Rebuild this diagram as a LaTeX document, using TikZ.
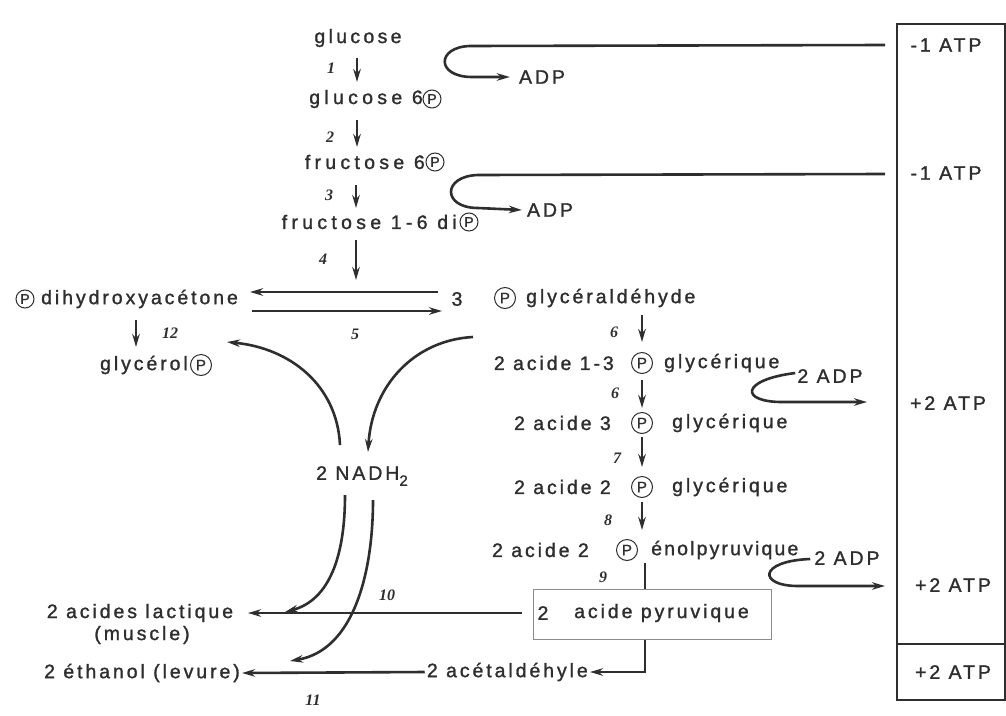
\documentclass[tikz,border=0pt]{standalone}
\usepackage{fontspec}
\setmainfont{Liberation Sans}[LetterSpace=15,FakeBold=1.3]
\newfontfamily\plainsans{Liberation Sans}[FakeBold=1.3]
\newfontfamily\numfont{Liberation Serif}
\usetikzlibrary{arrows.meta,calc}
\definecolor{ink}{HTML}{2E2E2E}
\definecolor{boxgray}{HTML}{8C8C8C}
\begin{document}
\begin{tikzpicture}[x=1pt,y=-1pt,
  txt/.style={inner sep=0pt,text=ink,font=\fontsize{19.5}{21}\selectfont},
  toptxt/.style={txt,font=\fontsize{19.5}{21}\selectfont\addfontfeature{LetterSpace=22}},
  num/.style={inner sep=0pt,text=ink,font=\numfont\bfseries\itshape\fontsize{16}{17}\selectfont},
  pc/.style={circle,draw=ink,line width=1pt,inner sep=0pt,minimum size=21pt,text=ink,font=\plainsans\fontsize{15}{15}\selectfont},
  pcs/.style={pc,minimum size=18pt,font=\plainsans\fontsize{14}{14}\selectfont},
  ln/.style={draw=ink,line width=2.6pt},
  arr/.style={ln,-{Stealth[length=13pt,width=7.5pt]}},
]
\useasboundingbox (0,0) rectangle (1006,715);
\fill[white] (0,0) rectangle (1006,715);

% ---- main chain (top) ----
\node[txt,font=\fontsize{19.5}{21}\selectfont\addfontfeature{LetterSpace=17}] (glc) at (358,38) {glucose};
\node[pcs] (p1) at (432,99) {P};
\node[toptxt,anchor=east] (g6) at (423,99) {glucose 6};
\node[pcs] (p2) at (435,162) {P};
\node[toptxt,anchor=east] (f6) at (425,162) {fructose 6};
\node[pcs] (p3) at (469,222) {P};
\node[toptxt,anchor=east] (f16) at (457,222) {fructose 1-6 di};

\node[pcs] (p4) at (25,299) {P};
\node[txt,anchor=west] (dha) at (41,299) {dihydroxyacétone};
\node[txt] (three) at (457,299) {3};
\node[pc] (p5) at (505,298) {P};
\node[txt,anchor=west] (gald) at (526,298) {glycéraldéhyde};
\node[pc] (p10) at (201,365) {P};
\node[txt,anchor=east] (glyc) at (188,365) {glycérol};

% ---- right chain ----
\node[pc] (p6) at (642,363) {P};
\node[txt,anchor=east] (a13l) at (614,363) {2 acide 1-3};
\node[txt,anchor=west] (a13r) at (664,363) {glycérique};
\node[pc] (p7) at (642,423) {P};
\node[txt,anchor=east] (a3l) at (611,423) {2 acide 3};
\node[txt,anchor=west] (a3r) at (672,423) {glycérique};
\node[pc] (p8) at (642,487) {P};
\node[txt,anchor=east] (a2l) at (611,487) {2 acide 2};
\node[txt,anchor=west] (a2r) at (672,487) {glycérique};
\node[pc] (p9) at (627,550) {P};
\node[txt,anchor=east] (el) at (589,550) {2 acide 2};
\node[txt,anchor=west,font=\fontsize{19.5}{21}\selectfont\addfontfeature{LetterSpace=11}] (er) at (651,550) {énolpyruvique};

\node[draw=boxgray,line width=1.1pt,inner sep=0pt,minimum width=238pt,minimum height=50pt,anchor=north west] (pyr) at (533,589) {};
\node[txt] (pyr2) at (543,613) {2};
\node[txt,anchor=west] (pyrt) at (574,613) {acide pyruvique};

\node[txt,anchor=east] (acet) at (588,672) {2 acétaldéhyle};
\node[txt] (lac) at (140,613) {2 acides lactique};
\node[txt] (mus) at (142,635) {(muscle)};
\node[txt] (eth) at (142,673) {2 éthanol (levure)};
\node[txt,anchor=west] (nadh) at (316,476) {2 NADH\raisebox{-6pt}{\plainsans\fontsize{15}{15}\selectfont 2}};

% ---- ATP box ----
\node[draw=ink,line width=2.4pt,inner sep=0pt,minimum width=108pt,minimum height=676pt,anchor=north west] (atpbox) at (896,23) {};
\draw[ln,line width=2.4pt] ($(atpbox.north west)+(0,621)$) -- ($(atpbox.north east)+(0,621)$);
\node[txt] (m1) at (946,45) {-1 ATP};
\node[txt] (m2) at (946,173) {-1 ATP};
\node[txt] (pl1) at (948,403) {+2 ATP};
\node[txt] (pl2) at (953,585) {+2 ATP};
\node[txt] (pl3) at (953,672) {+2 ATP};

\node[txt] (adp1) at (542,77) {ADP};
\node[txt] (adp2) at (550,210) {ADP};
\node[txt] (adp3) at (830,376) {2 ADP};
\node[txt] (adp4) at (847,558) {2 ADP};

% ---- step numbers ----
\node[num] (n1) at (331,68) {1};
\node[num] (n2) at (330,137) {2};
\node[num] (n3) at (329,195) {3};
\node[num] (n4) at (323,259) {4};
\node[num] (n5) at (355,334) {5};
\node[num] (n12) at (170,333) {12};
\node[num] (n6a) at (614,332) {6};
\node[num] (n6b) at (615,393) {6};
\node[num] (n7) at (617,458) {7};
\node[num] (n8) at (608,520) {8};
\node[num] (n9) at (603,577) {9};
\node[num] (n10) at (387,595) {10};
\node[num] (n11) at (313,700) {11};

% ---- vertical arrows, left chain ----
\draw[arr] ($(glc)+(-1,20)$) -- ($(glc |- g6)+(-1,-17)$);
\draw[arr] ($(glc |- g6)+(-1,21)$) -- ($(glc |- f6)+(-1,-15)$);
\draw[arr] ($(glc |- f6)+(-2,23)$) -- ($(glc |- f16)+(-2,-14)$);
\draw[arr] ($(glc |- f16)+(-2,18)$) -- ($(glc |- three)+(-2,-19)$);

% ---- equilibrium arrows ----
\draw[arr] ($(three)+(-19,-7)$) -- ($(three)+(-207,-7)$);
\draw[arr] ($(three)+(-205,12)$) -- ($(three)+(-15,12)$);
\draw[arr] ($(p4)+(111,21)$) -- ($(p4)+(111,48)$);

% ---- right chain arrows ----
\draw[arr] ($(p6 |- gald)+(0,17)$) -- ($(p6)+(0,-21)$);
\draw[arr] ($(p6)+(0,17)$) -- ($(p7)+(0,-15)$);
\draw[arr] ($(p7)+(0,14)$) -- ($(p8)+(0,-20)$);
\draw[arr] ($(p8)+(0,15)$) -- ($(p8 |- p9)+(0,-20)$);
\draw[ln] ($(p8 |- p9)+(3,13)$) -- ($(p8 |- pyr.north)+(3,0)$);
\draw[arr] ($(p8 |- pyr.south)+(3,0)$) |- ([xshift=2pt]acet.east);

% ---- fermentation ----
\draw[arr] ($(pyr.west |- lac)+(-11,0)$) -- ($(lac)+(108,0)$);
\draw[arr] ([xshift=-2pt]acet.west) -- ([xshift=2pt]eth.east);

% ---- NADH curves ----
\draw[arr] ($(nadh.west)+(24,-31)$) .. controls ($(nadh.west)+(21,-91)$) and ($(nadh.west)+(-26,-128)$) .. ($(p10)+(26,-23)$);
\draw[arr] ($(p5)+(-32,39)$) .. controls ($(p5)+(-90,42)$) and ($(nadh.west)+(56,-91)$) .. ($(nadh.west)+(52,-24)$);
\draw[arr] ($(nadh.west)+(29,19)$) .. controls ($(nadh.west)+(29,79)$) and ($(nadh.west)+(14,124)$) .. ($(nadh.west)+(-31,136)$);
\draw[arr] ($(nadh.west)+(57,24)$) .. controls ($(nadh.west)+(57,94)$) and ($(nadh.west)+(39,174)$) .. ($(nadh.west)+(-26,185)$);

% ---- ADP loops ----
\draw[arr] ($(atpbox.west |- m1)+(-11,0)$) -- (470,46) .. controls (436,47) and (436,77) .. (472,77) -- ([xshift=-9pt]adp1.west);
\draw[arr] ($(atpbox.west |- m2)+(-11,1)$) -- (478,175) .. controls (442,176) and (442,208) .. (478,208) -- ([xshift=-5pt]adp2.west);
\draw[arr] ([xshift=-2pt,yshift=3pt]adp3.west) .. controls (740,380) and (740,402) .. (782,402) -- ($(atpbox.west |- adp3)+(-29,26)$);
\draw[arr] ([xshift=-4pt,yshift=-1pt]adp4.west) .. controls (758,561) and (758,586) .. (798,586) -- ($(atpbox.west |- adp4)+(-11,28)$);
\end{tikzpicture}
\end{document}
